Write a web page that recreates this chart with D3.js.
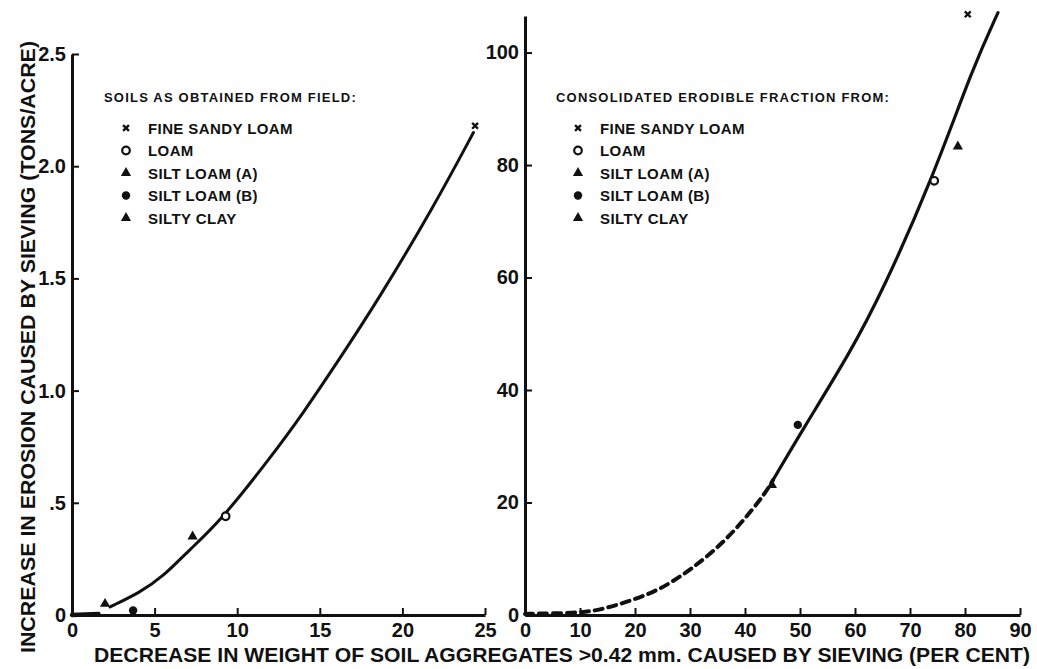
<!DOCTYPE html>
<html>
<head>
<meta charset="utf-8">
<script src="https://cdn.jsdelivr.net/npm/d3@7"></script>
<style>
  body { margin: 0; background: white; }
  text { font-family: "Liberation Sans", Arial, sans-serif; font-weight: bold; fill: #111; }
</style>
</head>
<body>
<div id="chart"></div>
<script>
// Soil types and symbols (same legend on both panels)
const soilTypes = ["FINE SANDY LOAM", "LOAM", "SILT LOAM (A)", "SILT LOAM (B)", "SILTY CLAY"];
const soilSymbols = ["x", "open", "triangle", "dot", "triangle"];

// Left panel: soils as obtained from field
const fieldX = [24.4, 9.3, 7.3, 3.7, 2.0];
const fieldY = [2.18, 0.44, 0.35, 0.02, 0.05];
const fieldCurveX = [2.3, 4.1, 5.5, 7.1, 9.0, 12.0, 14.0, 16.0, 18.5, 21.9, 24.3];
const fieldCurveY = [0.036, 0.10, 0.17, 0.29, 0.42, 0.70, 0.90, 1.12, 1.40, 1.82, 2.15];
const fieldBaseX = [0, 1.6];
const fieldBaseY = [0, 0.005];
const fieldTicksX = [0, 5, 10, 15, 20, 25];
const fieldTicksY = [0, 0.5, 1.0, 1.5, 2.0, 2.5];
const fieldTickLabelsY = ["0", ".5", "1.0", "1.5", "2.0", "2.5"];

// Right panel: consolidated erodible fraction
const consolX = [80.5, 74.4, 78.7, 49.6, 44.9];
const consolY = [106.8, 77.2, 83.3, 33.8, 23.1];
const consolDashX = [0, 5, 10, 13.6, 18.5, 24.5, 30.5, 36.7, 43.3, 45.1];
const consolDashY = [0.2, 0.3, 0.4, 0.9, 2.3, 4.4, 8.3, 13.3, 21, 24];
const consolCurveX = [45.1, 50.5, 59.1, 65.1, 74.0, 81.5, 86.0];
const consolCurveY = [24.0, 33.0, 46.6, 57.8, 77.4, 97.5, 107.1];
const consolTicksX = [0, 10, 20, 30, 40, 50, 60, 70, 80, 90];
const consolTicksY = [0, 20, 40, 60, 80, 100];

const width = 1037;
const height = 669;

const svg = d3.select("#chart")
    .append("svg")
    .attr("width", width)
    .attr("height", height);

svg.append("rect")
    .attr("width", width)
    .attr("height", height)
    .attr("fill", "white");

// Escalas
const xL = d3.scaleLinear().domain([0, 25]).range([72, 485]);
const yL = d3.scaleLinear().domain([0, 2.5]).range([615, 54]);
const xR = d3.scaleLinear().domain([0, 90]).range([525, 1020]);
const yR = d3.scaleLinear().domain([0, 106.5]).range([615, 16]);

function styleAxis(g) {
    g.select(".domain").attr("stroke", "#111").attr("stroke-width", 3);
    g.selectAll(".tick line").attr("stroke", "#111").attr("stroke-width", 2);
    g.selectAll(".tick text")
        .style("font-family", "'Liberation Sans', Arial, sans-serif")
        .style("font-weight", "bold")
        .style("font-size", "20px")
        .attr("fill", "#111");
}

// Ejes izquierda
svg.append("g")
    .attr("transform", `translate(0,${yL(0)})`)
    .call(d3.axisBottom(xL).tickValues(fieldTicksX).tickFormat(d3.format("d"))
        .tickSizeInner(-7).tickSizeOuter(0).tickPadding(8))
    .call(styleAxis);

svg.append("g")
    .attr("transform", `translate(${xL(0)},0)`)
    .call(d3.axisLeft(yL).tickValues(fieldTicksY).tickFormat((d, i) => fieldTickLabelsY[i])
        .tickSizeInner(-7).tickSizeOuter(0).tickPadding(6))
    .call(styleAxis);

// Ejes derecha
svg.append("g")
    .attr("transform", `translate(0,${yR(0)})`)
    .call(d3.axisBottom(xR).tickValues(consolTicksX).tickFormat(d3.format("d"))
        .tickSizeInner(-7).tickSizeOuter(0).tickPadding(8))
    .call(styleAxis);

svg.append("g")
    .attr("transform", `translate(${xR(0)},0)`)
    .call(d3.axisLeft(yR).tickValues(consolTicksY).tickFormat(d3.format("d"))
        .tickSizeInner(-7).tickSizeOuter(0).tickPadding(6))
    .call(styleAxis);

// Curvas
function drawCurve(xs, ys, xScale, yScale, dash, sw) {
    const pts = xs.map((x, i) => [x, ys[i]]);
    const line = d3.line()
        .x(d => xScale(d[0]))
        .y(d => yScale(d[1]))
        .curve(d3.curveBasis);
    svg.append("path")
        .attr("d", line(pts))
        .attr("fill", "none")
        .attr("stroke", "#111")
        .attr("stroke-width", sw)
        .attr("stroke-linecap", "round")
        .attr("stroke-dasharray", dash);
}

drawCurve(fieldBaseX, fieldBaseY, xL, yL, null, 4.5);
drawCurve(fieldCurveX, fieldCurveY, xL, yL, null, 3);
drawCurve(consolDashX, consolDashY, xR, yR, "8,6", 4);
drawCurve(consolCurveX, consolCurveY, xR, yR, null, 3.2);

// Simbolos
function drawSymbol(g, kind, cx, cy) {
    if (kind === "x") {
        g.append("path")
            .attr("d", d3.symbol(d3.symbolX, 24)())
            .attr("transform", `translate(${cx},${cy})`)
            .attr("fill", "none").attr("stroke", "#111").attr("stroke-width", 2.4);
    } else if (kind === "open") {
        g.append("circle")
            .attr("cx", cx).attr("cy", cy).attr("r", 3.8)
            .attr("fill", "white").attr("stroke", "#111").attr("stroke-width", 2.2);
    } else if (kind === "dot") {
        g.append("circle")
            .attr("cx", cx).attr("cy", cy).attr("r", 4.2)
            .attr("fill", "#111");
    } else {
        g.append("path")
            .attr("d", d3.symbol(d3.symbolTriangle, 45)())
            .attr("transform", `translate(${cx},${cy})`)
            .attr("fill", "#111");
    }
}

const marks = svg.append("g");
fieldX.forEach((x, i) => drawSymbol(marks, soilSymbols[i], xL(x), yL(fieldY[i])));
consolX.forEach((x, i) => drawSymbol(marks, soilSymbols[i], xR(x), yR(consolY[i])));

// Leyendas
function drawLegend(x0, title) {
    const g = svg.append("g");
    g.append("text")
        .attr("x", x0)
        .attr("y", 102)
        .style("font-size", "13px")
        .style("letter-spacing", "1.2px")
        .text(title);
    soilTypes.forEach((name, i) => {
        const yy = 128 + i * 22.5;
        drawSymbol(g, soilSymbols[i], x0 + 22, yy);
        g.append("text")
            .attr("x", x0 + 44)
            .attr("y", yy + 5.5)
            .style("font-size", "15px")
            .style("letter-spacing", "0.4px")
            .text(name);
    });
}
drawLegend(104, "SOILS AS OBTAINED FROM FIELD:");
drawLegend(556, "CONSOLIDATED ERODIBLE FRACTION FROM:");

// Etiquetas de ejes
svg.append("text")
    .attr("transform", "translate(35,347) rotate(-90)")
    .attr("text-anchor", "middle")
    .attr("textLength", 612)
    .attr("lengthAdjust", "spacingAndGlyphs")
    .style("font-size", "21px")
    .text("INCREASE IN EROSION CAUSED BY SIEVING (TONS/ACRE)");

svg.append("text")
    .attr("x", 562)
    .attr("y", 662)
    .attr("text-anchor", "middle")
    .attr("textLength", 936)
    .attr("lengthAdjust", "spacingAndGlyphs")
    .style("font-size", "20px")
    .text("DECREASE IN WEIGHT OF SOIL  AGGREGATES >0.42 mm. CAUSED BY SIEVING (PER CENT)");
</script>
</body>
</html>
